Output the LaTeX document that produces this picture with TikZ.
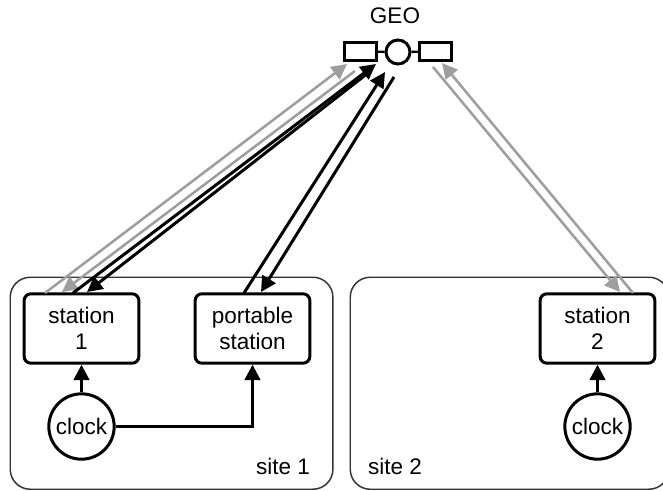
\documentclass[tikz,border=0pt]{standalone}
\usepackage{fontspec}
\setmainfont{Liberation Sans}
\usepackage{tikz}
\usetikzlibrary{arrows.meta}
\tikzset{>={Triangle[length=11.5pt,width=11.5pt]}}
\tikzset{
  site/.style={draw=black!80,line width=1.1pt,rounded corners=15pt,anchor=north west},
  station/.style={draw=black,line width=2.25pt,rounded corners=5pt,align=center,minimum width=86pt,minimum height=52pt,font=\fontsize{16.9}{19.5}\selectfont,inner sep=0pt},
  clock/.style={draw=black,line width=2.25pt,circle,minimum size=49pt,font=\fontsize{16.9}{19.5}\selectfont,inner sep=0pt},
  panel/.style={draw=black,line width=2.25pt,minimum width=24pt,minimum height=13pt,inner sep=0pt},
  label/.style={font=\fontsize{16.9}{19.5}\selectfont,inner sep=0pt},
  blackline/.style={->,draw=black,line width=2.25pt},
  grayline/.style={->,draw=black!38,line width=1.9pt},
}
\begin{document}
\begin{tikzpicture}[x=0.75pt,y=-0.75pt]
      \useasboundingbox (0,0) rectangle (663,490);
      \node[site,minimum width=242pt,minimum height=159pt] (site1) at (9.5,276.5) {};
      \node[site,minimum width=239pt,minimum height=159pt] (site2) at (349.5,276.5) {};
      \node[station] (station1) at (81.5,328.5) {station\\1};
      \node[station] (portable) at (252.5,328.5) {portable\\station};
      \node[station] (station2) at (597.5,328.5) {station\\2};
      \node[clock] (clock1) at (81.5,426.5) {clock};
      \node[clock] (clock2) at (597.5,426.5) {clock};
      \node[label] (label1) at (283,466) {site 1};
      \node[label] (label2) at (395,466) {site 2};
      % satellite
      \node[circle,draw=black,line width=2.25pt,minimum size=18pt,inner sep=0pt] (body) at (398,52) {};
      \node[panel] (panelL) at (360,51.5) {};
      \node[panel] (panelR) at (435.5,51.5) {};
      \draw[line width=1.8pt] (panelL) -- (body);
      \draw[line width=1.8pt] (panelR) -- (body);
      \node[label] (geo) at (395,16) {GEO};
      % free ends of the links
      \coordinate (g1a) at (45,293);   \coordinate (g1b) at (347,64);
      \coordinate (g2a) at (355,71);   \coordinate (g2b) at (62,292);
      \coordinate (b1a) at (73,293);   \coordinate (b1b) at (376,64);
      \coordinate (b2a) at (368,73);   \coordinate (b2b) at (87,292);
      \coordinate (p1a) at (244,293);  \coordinate (p1b) at (385,72);
      \coordinate (p2a) at (394,77);   \coordinate (p2b) at (261,292);
      \coordinate (g3a) at (633,293);  \coordinate (g3b) at (442,63);
      \coordinate (g4a) at (433,67);   \coordinate (g4b) at (620,292);
      \draw[grayline] (g1a) -- (g1b);
      \draw[grayline] (g2a) -- (g2b);
      \draw[grayline] (g3a) -- (g3b);
      \draw[grayline] (g4a) -- (g4b);
      \draw[blackline] (b1a) -- (b1b);
      \draw[blackline] (b2a) -- (b2b);
      \draw[blackline] (p1a) -- (p1b);
      \draw[blackline] (p2a) -- (p2b);
      \draw[blackline] (clock1) -- (station1);
      \draw[blackline] (clock2) -- (station2);
      \draw[blackline] (clock1) -| (portable);
    \end{tikzpicture}
\end{document}
